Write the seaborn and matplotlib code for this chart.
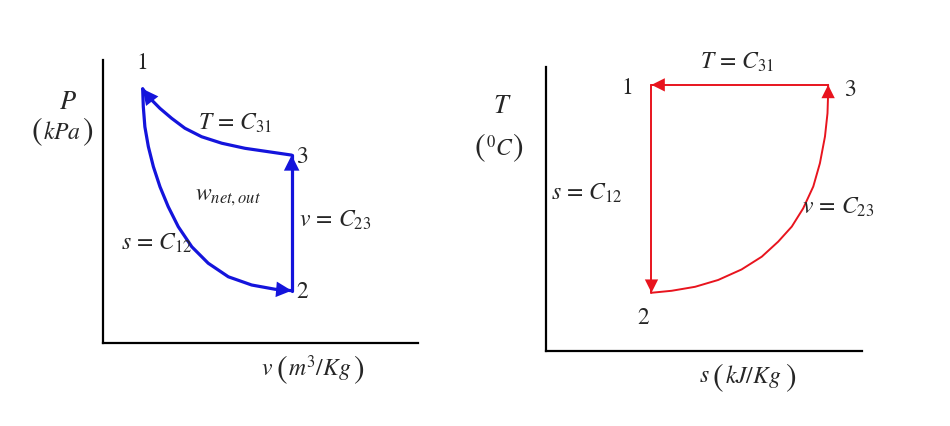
import matplotlib
matplotlib.use('Agg')
import matplotlib.pyplot as plt
import pandas as pd
import seaborn as sns

# P-v diagram paths (axes span 0..10)
pv_12_v = [1.26, 1.28, 1.33, 1.44, 1.60, 1.81, 2.07, 2.39, 2.82, 3.34, 3.98,
           4.72, 5.46, 5.99]
pv_12_p = [8.98, 8.35, 7.64, 6.94, 6.23, 5.52, 4.82, 4.11, 3.40, 2.82, 2.34,
           2.05, 1.90, 1.85]
pv_23_v = [5.99, 5.99]
pv_23_p = [1.85, 6.64]
pv_31_v = [5.99, 5.25, 4.51, 3.77, 3.13, 2.60, 2.18, 1.81, 1.49, 1.26]
pv_31_p = [6.64, 6.76, 6.88, 7.06, 7.29, 7.59, 7.94, 8.29, 8.65, 8.98]

# T-s diagram paths
ts_12_s = [3.34, 3.34]
ts_12_t = [9.37, 2.05]
ts_23_s = [3.34, 3.98, 4.72, 5.45, 6.19, 6.83, 7.35, 7.78, 8.14, 8.46, 8.67,
           8.83, 8.91, 8.93, 8.93]
ts_23_t = [2.05, 2.12, 2.26, 2.50, 2.87, 3.32, 3.85, 4.38, 5.02, 5.79, 6.61,
           7.55, 8.37, 9.07, 9.37]
ts_31_s = [8.93, 3.34]
ts_31_t = [9.37, 9.37]

BLUE = '#1414dc'
RED = '#e8141e'

sns.set_style('white')
plt.rcParams['mathtext.fontset'] = 'stix'
plt.rcParams['font.family'] = ['STIXGeneral', 'DejaVu Sans']

fig = plt.figure(figsize=(9.5, 4.26), dpi=100)
ax1 = fig.add_axes([0.1084, 0.1948, 0.3316, 0.6643])
ax2 = fig.add_axes([0.5747, 0.1761, 0.3326, 0.6667])


def draw_path(ax, xs, ys, color, lw, head):
    df = pd.DataFrame({'x': xs, 'y': ys})
    sns.lineplot(data=df, x='x', y='y', sort=False, estimator=None,
                 color=color, linewidth=lw, ax=ax)
    ax.annotate('', xy=(xs[-1], ys[-1]), xytext=(xs[-2], ys[-2]),
                arrowprops=dict(arrowstyle='-|>', color=color, lw=0,
                                mutation_scale=head, shrinkA=0, shrinkB=0))


for xs, ys in [(pv_12_v, pv_12_p), (pv_23_v, pv_23_p), (pv_31_v, pv_31_p)]:
    draw_path(ax1, xs, ys, BLUE, 2.3, 28)
for xs, ys in [(ts_12_s, ts_12_t), (ts_23_s, ts_23_t), (ts_31_s, ts_31_t)]:
    draw_path(ax2, xs, ys, RED, 1.4, 24)

for ax in (ax1, ax2):
    ax.set_xlim(0, 10)
    ax.set_ylim(0, 10)
    ax.set_xticks([])
    ax.set_yticks([])
    ax.set_xlabel('')
    ax.set_ylabel('')
    sns.despine(ax=ax)
    for side in ('left', 'bottom'):
        ax.spines[side].set_color('black')
        ax.spines[side].set_linewidth(1.6)

fs = 17
kw = dict(fontsize=fs, ha='center', va='center', clip_on=False)
pk = dict(fontsize=23, ha='center', va='center', clip_on=False,
          family='STIXGeneral', fontweight='light')

# P-v labels
ax1.text(1.24, 9.89, '1', **kw)
ax1.text(6.12, 6.57, '3', fontsize=fs, ha='left', va='center')
ax1.text(6.15, 1.80, '2', fontsize=fs, ha='left', va='center')
ax1.text(4.19, 7.77, r'$T\,=\,C_{31}$', **kw)
ax1.text(3.97, 5.16, r'$w_{net,out}$', **kw)
ax1.text(7.37, 4.35, r'$v\,=\,C_{23}$', **kw)
ax1.text(1.71, 3.53, r'$s\,=\,C_{12}$', **kw)
ax1.text(-1.11, 8.48, r'$P$', fontsize=19, ha='center', va='center',
         clip_on=False)
ax1.text(-2.10, 7.49, '(', **pk)
ax1.text(-1.30, 7.42, r'$kPa$', **kw)
ax1.text(-0.48, 7.49, ')', **pk)
ax1.text(5.20, -0.92, r'$v$', **kw)
ax1.text(5.68, -0.95, '(', **pk)
ax1.text(6.89, -0.92, r'$m^3/Kg$', **kw)
ax1.text(8.12, -0.95, ')', **pk)

# T-s labels
ax2.text(2.56, 9.26, '1', **kw)
ax2.text(9.62, 9.19, '3', **kw)
ax2.text(3.07, 1.16, '2', **kw)
ax2.text(6.04, 10.18, r'$T\,=\,C_{31}$', **kw)
ax2.text(1.30, 5.56, r'$s\,=\,C_{12}$', **kw)
ax2.text(9.24, 5.04, r'$v\,=\,C_{23}$', **kw)
ax2.text(-1.39, 8.59, r'$T$', fontsize=19, ha='center', va='center',
         clip_on=False)
ax2.text(-2.09, 7.18, '(', **pk)
ax2.text(-1.46, 7.15, r'$^{0}C$', **kw)
ax2.text(-0.89, 7.18, ')', **pk)
ax2.text(5.00, -0.89, r'$s$', **kw)
ax2.text(5.45, -0.92, '(', **pk)
ax2.text(6.55, -0.89, r'$kJ/Kg$', **kw)
ax2.text(7.72, -0.92, ')', **pk)

fig.savefig('out.png', dpi=100)
